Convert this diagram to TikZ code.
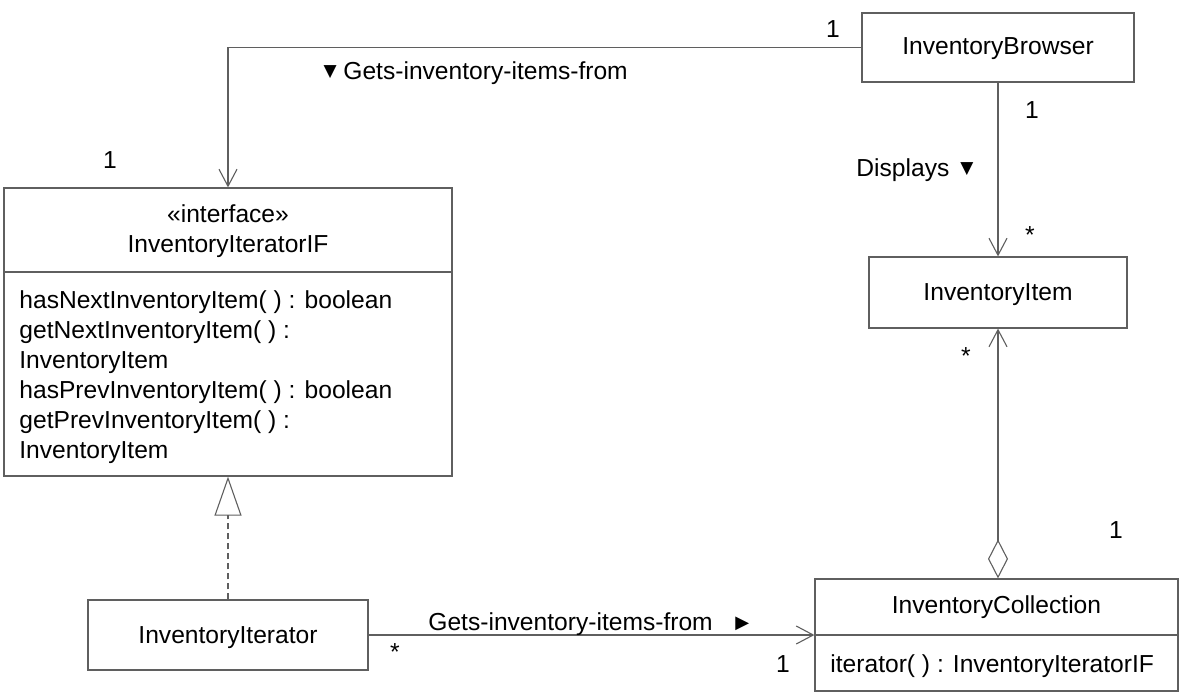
\documentclass[tikz,border=0pt]{standalone}
\usepackage{fontspec}
\setmainfont{Liberation Sans}
\newfontfamily\dvsym{DejaVu Sans}
\usetikzlibrary{arrows.meta}
\definecolor{linec}{RGB}{95,95,95}
\tikzset{
  box/.style={draw=linec, line width=0.6pt, inner sep=0pt, fill=white},
  txt/.style={inner sep=0pt, font=\fontsize{12.3}{15}\selectfont},
  conn/.style={draw=linec, line width=0.55pt},
  opentip/.style={-{Straight Barb[length=8.5pt,width=9pt,line width=0.55pt]}},
}
\begin{document}
\begin{tikzpicture}[x=0.5pt,y=-0.5pt]
\useasboundingbox (0,0) rectangle (1188,695);
% boxes
\node[box, minimum width=136pt, minimum height=34.5pt] (browser) at (998,47.5) {};
\node[box, minimum width=129pt, minimum height=35.5pt] (item) at (998,292.5) {};
\node[box, minimum width=224pt, minimum height=144pt] (iif) at (228,332) {};
\node[box, minimum width=140pt, minimum height=35pt] (iter) at (228,635) {};
\node[box, minimum width=181.5pt, minimum height=56pt] (coll) at (996.5,635) {};
% dividers
\coordinate (iifdl) at (4,272);
\coordinate (colldl) at (815,635);
\draw[conn] (iifdl) -- (iifdl -| iif.east);
\draw[conn] (colldl) -- (colldl -| coll.east);
% box texts
\node[txt, anchor=base] (tbrowser) at (998,55) {InventoryBrowser};
\node[txt, anchor=base] (titem) at (998,300) {InventoryItem};
\node[txt, anchor=base] (titer) at (228,643) {InventoryIterator};
\node[txt, anchor=base] (tcoll) at (996.5,613) {InventoryCollection};
\node[txt, anchor=base west] (tcollop) at (830,672) {iterator( ) : InventoryIteratorIF};
\node[txt, anchor=base] (tstereo) at (228,223) {«interface»};
\node[txt, anchor=base] (tiif) at (228,253) {InventoryIteratorIF};
\node[txt, anchor=base west] (op1) at (19,308) {hasNextInventoryItem( ) : boolean};
\node[txt, anchor=base west] (op2) at (19,338) {getNextInventoryItem( ) :};
\node[txt, anchor=base west] (op3) at (19,368) {InventoryItem};
\node[txt, anchor=base west] (op4) at (19,398) {hasPrevInventoryItem( ) : boolean};
\node[txt, anchor=base west] (op5) at (19,428) {getPrevInventoryItem( ) :};
\node[txt, anchor=base west] (op6) at (19,458) {InventoryItem};
% connectors
\draw[conn, opentip] (browser.west) -| (iif.north);
\draw[conn, opentip] (browser.south) -- (item.north);
\draw[conn, {Straight Barb[length=8.5pt,width=9pt,line width=0.55pt]}-{Diamond[open,length=19.5pt,width=10pt,line width=0.55pt]}]
  (item.south) -- (item.south |- coll.north);
\draw[conn, dashed, dash pattern=on 3pt off 2pt, -{Triangle[open,length=19.5pt,width=13.5pt,line width=0.55pt]}]
  (iter.north) -- (iif.south);
\draw[conn, opentip] (iter.east) -- (coll.west);
% labels
\node[txt, anchor=base west] (l1) at (343,80) {Gets-inventory-items-from};
\node[txt, anchor=base east, font=\dvsym\fontsize{8.5}{8}\selectfont] (l1t) at (337,77) {▼};
\node[txt, anchor=base west] (l2) at (856,177) {Displays};
\node[txt, anchor=base west, font=\dvsym\fontsize{8.5}{8}\selectfont] (l2t) at (960,174) {▼};
\node[txt, anchor=base west] (l3) at (428,630) {Gets-inventory-items-from};
\node[txt, anchor=base west, font=\dvsym\fontsize{9}{8}\selectfont] (l3t) at (735,628) {▶};
% multiplicities
\node[txt, anchor=base] (m1) at (833,38) {1};
\node[txt, anchor=base] (m2) at (110,169) {1};
\node[txt, anchor=base] (m3) at (1032,119) {1};
\node[txt, anchor=base] (m4) at (1030,243) {*};
\node[txt, anchor=base] (m5) at (966,364) {*};
\node[txt, anchor=base] (m6) at (1116,538) {1};
\node[txt, anchor=base] (m7) at (395,660) {*};
\node[txt, anchor=base] (m8) at (783,672) {1};
\end{tikzpicture}
\end{document}
